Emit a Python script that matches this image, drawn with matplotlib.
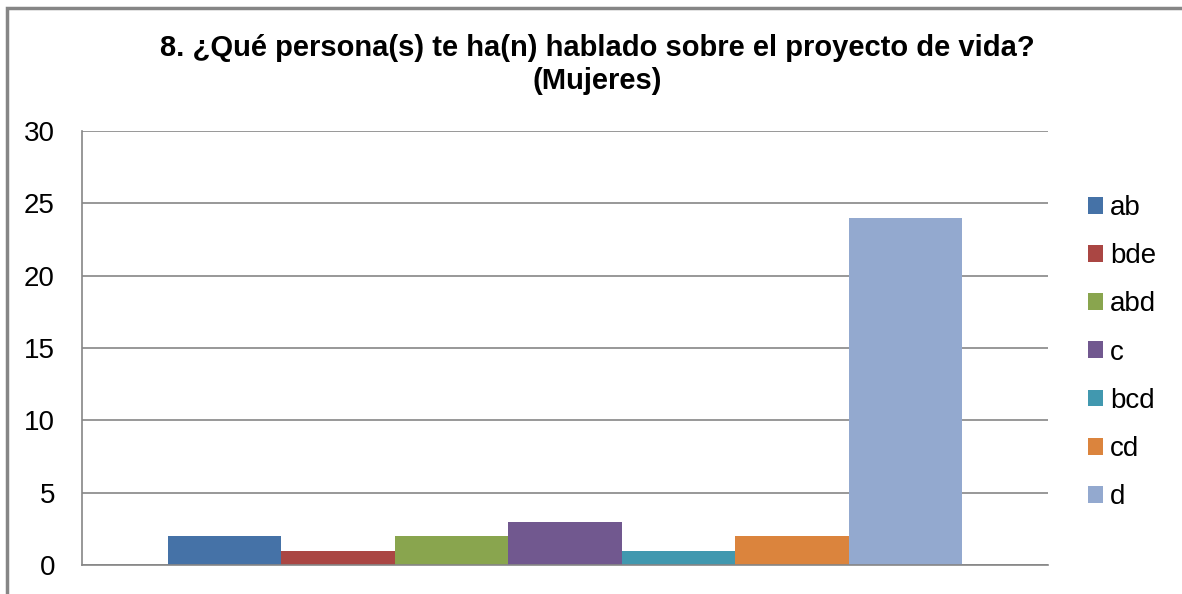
import matplotlib.pyplot as plt
from matplotlib.patches import Patch, Rectangle

categories = ['ab', 'bde', 'abd', 'c', 'bcd', 'cd', 'd']
values = [2, 1, 2, 3, 1, 2, 24]
colors = ['#4572A7', '#AA4643', '#89A54E', '#71588F', '#4198AF', '#DB843D', '#93A9CF']
yticks = [0, 5, 10, 15, 20, 25, 30]

plt.rcParams['font.family'] = ['Liberation Sans', 'DejaVu Sans']

W, H = 1182, 594
fig = plt.figure(figsize=(W / 100, H / 100), dpi=100)
fig.patch.set_facecolor('white')

# outer chart border (cut off at right and bottom)
fig.patches.append(Rectangle((7 / W, -0.1), 1.2, (H - 8) / H + 0.1, transform=fig.transFigure,
                             fill=False, edgecolor='#868686', linewidth=2.5))

ax = fig.add_axes([82 / W, 29 / H, (1048 - 82) / W, (565 - 131) / H])

bw = (962 - 168) / (1048 - 82) / len(values)
start = -0.5 + (168 - 82) / (1048 - 82)
for i, (cat, v, c) in enumerate(zip(categories, values, colors)):
    ax.bar(start + bw * (i + 0.5), v, width=bw, color=c, label=cat, zorder=3)

ax.set_xlim(-0.5, 0.5)
ax.set_ylim(0, 30)
ax.set_yticks(yticks)
ax.set_xticks([])
ax.tick_params(axis='y', length=0, labelsize=20, pad=19.5)
ax.yaxis.grid(True, color='#868686', linewidth=1.2)
for s in ['top', 'right']:
    ax.spines[s].set_visible(False)
for s in ['left', 'bottom']:
    ax.spines[s].set_color('#868686')
    ax.spines[s].set_linewidth(1.2)
    ax.spines[s].set_zorder(4)

fig.text(597 / W, 1 - 48 / H, '8. ¿Qué persona(s) te ha(n) hablado sobre el proyecto de vida?',
         ha='center', va='center', fontsize=21, fontweight='bold')
fig.text(597 / W, 1 - 81 / H, '(Mujeres)', ha='center', va='center', fontsize=21, fontweight='bold')

handles = [Patch(facecolor=c, edgecolor='none') for c in colors]
leg = fig.legend(handles, categories, loc='upper left', bbox_to_anchor=(1088 / W, 1 - 195 / H),
                 frameon=False, fontsize=20, handlelength=0.55, handleheight=0.55,
                 handletextpad=0.25, labelspacing=0.80, borderaxespad=0, borderpad=0)

fig.savefig('out.png', dpi=100)
